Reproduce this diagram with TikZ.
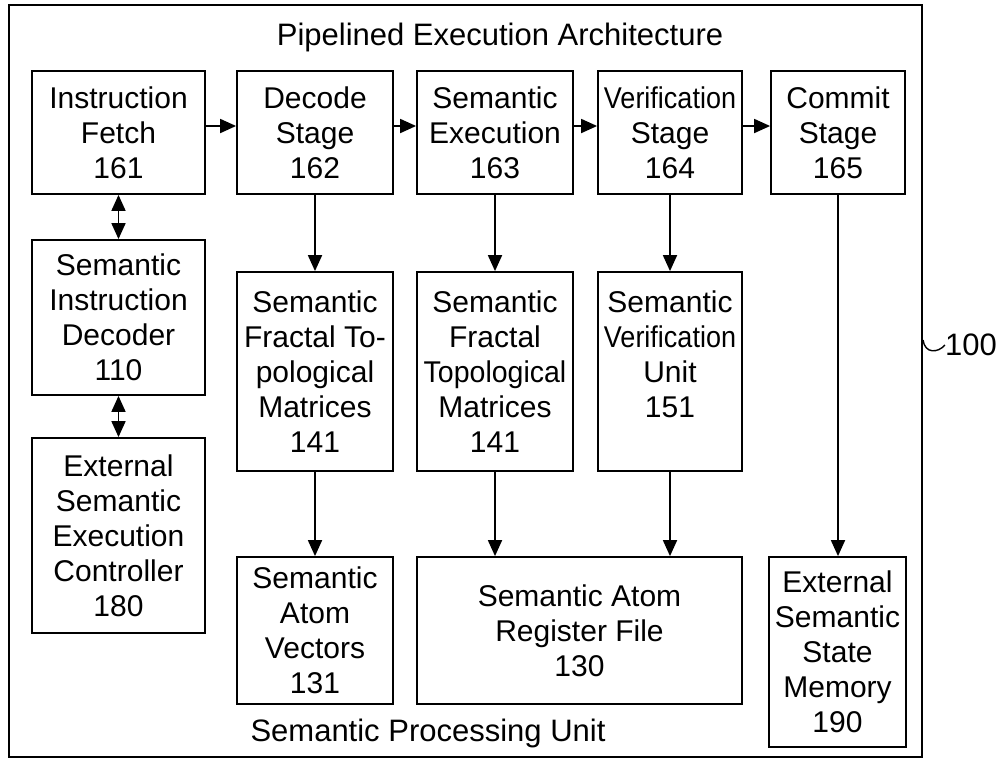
\documentclass[tikz,border=0pt]{standalone}
\usepackage{fontspec}
\setmainfont{Liberation Sans}
\usepackage{xcolor}
\usepackage{tikz}
\usetikzlibrary{arrows.meta, positioning, calc}

\begin{document}
\begin{tikzpicture}[
        x=1pt, y=-1pt,
        txt/.style={font=\fontsize{31}{35}\selectfont, align=center, inner sep=0pt},
        block/.style={txt, font=\fontsize{30}{35}\selectfont, draw, rectangle, line width=1.8pt},
        arrow/.style={-{Triangle[length=16pt, width=14pt]}, line width=1.8pt},
        biarrow/.style={{Triangle[length=16pt, width=14pt]}-{Triangle[length=16pt, width=14pt]}, line width=1.8pt}
    ]
    \useasboundingbox (0,0) rectangle (1001,764);

    % Outer frame
    \node[draw, line width=1.8pt, minimum width=913pt, minimum height=752pt] (arch) at (465.5,381) {};
    \node[txt] (title) at (500,37) {Pipelined Execution Architecture};
    \node[txt] (spu) at (428,733) {Semantic Processing Unit};
    \node[txt] (ref) at (971,345) {100};
    \coordinate (lead) at (923,340);

    % Pipeline stages
    \node[block, minimum width=173pt, minimum height=123pt] (fetch) at (118.5,132.5) {Instruction\\Fetch\\161};
    \node[block, minimum width=156pt, minimum height=123pt] (decode) at (315,132.5) {Decode\\Stage\\162};
    \node[block, minimum width=156pt, minimum height=123pt] (exec) at (495,132.5) {Semantic\\Execution\\163};
    \node[block, minimum width=144pt, minimum height=123pt] (verif) at (670,132.5) {\scalebox{0.9}[1]{Verification}\\Stage\\164};
    \node[block, minimum width=134pt, minimum height=123pt] (commit) at (838,132.5) {Commit\\Stage\\165};

    % Left column
    \node[block, minimum width=173pt, minimum height=155pt] (sid) at (118.5,317.5) {Semantic\\Instruction\\Decoder\\110};
    \node[block, minimum width=173pt, minimum height=195pt] (esec) at (118.5,535.5) {External\\Semantic\\Execution\\Controller\\180};

    % Units
    \node[block, minimum width=156pt, minimum height=199pt] (sftmA) at (315,371.5) {Semantic\\Fractal To-\\pological\\Matrices\\141};
    \node[block, minimum width=156pt, minimum height=199pt] (sftmB) at (495,371.5) {Semantic\\Fractal\\\scalebox{0.95}[1]{Topological}\\Matrices\\141};
    \node[block, minimum width=144pt, minimum height=199pt] (svu) at (670,371.5) {Semantic\\\scalebox{0.9}[1]{Verification}\\Unit\\151\\\mbox{}};

    % Storage
    \node[block, minimum width=156pt, minimum height=147pt] (sav) at (315,630.5) {Semantic\\Atom\\Vectors\\131};
    \node[block, minimum width=325pt, minimum height=147pt] (sarf) at (579.5,630.5) {Semantic Atom\\Register File\\130};
    \node[block, minimum width=137pt, minimum height=190pt] (essm) at (837.5,652) {External\\Semantic\\State\\Memory\\190};

    % Arrows
    \draw[arrow] ([yshift=6.5pt]fetch.east) -- ([yshift=6.5pt]decode.west);
    \draw[arrow] ([yshift=6.5pt]decode.east) -- ([yshift=6.5pt]exec.west);
    \draw[arrow] ([yshift=6.5pt]exec.east) -- ([yshift=6.5pt]verif.west);
    \draw[arrow] ([yshift=6.5pt]verif.east) -- ([yshift=6.5pt]commit.west);
    \draw[biarrow] (fetch) -- (sid);
    \draw[biarrow] (sid) -- (esec);
    \draw[arrow] (decode) -- (sftmA);
    \draw[arrow] (exec) -- (sftmB);
    \draw[arrow] (verif) -- (svu);
    \draw[arrow] (sftmA) -- (sav);
    \draw[arrow] (sftmB.south) -- (sftmB.south |- sarf.north);
    \draw[arrow] (svu.south) -- (svu.south |- sarf.north);
    \draw[arrow] (commit.south) -- (commit.south |- essm.north);
    \draw[line width=1.4pt] (lead) .. controls (925,354) and (938,353) .. (ref.west);

\end{tikzpicture}
\end{document}
